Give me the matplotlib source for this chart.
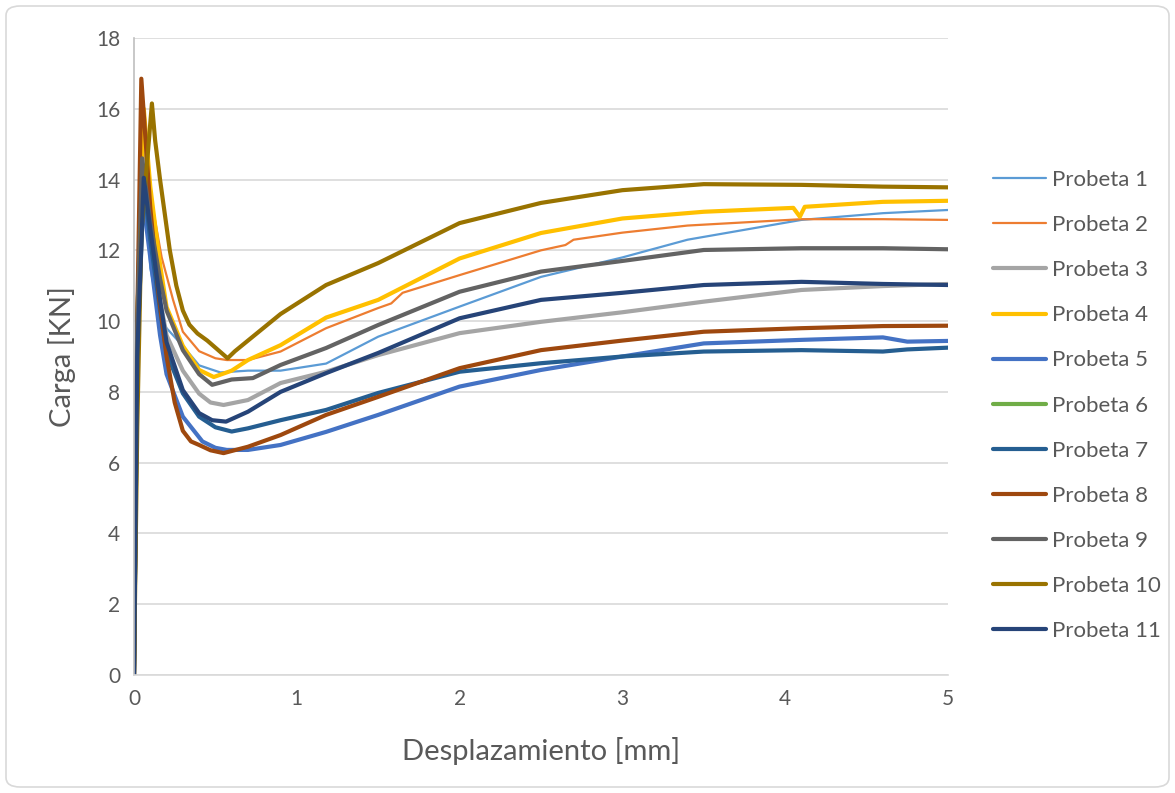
import matplotlib
matplotlib.use("Agg")
import matplotlib.pyplot as plt
from matplotlib.patches import FancyBboxPatch

plt.rcParams['font.family'] = ['Lato', 'DejaVu Sans']

# curvas carga-desplazamiento de cada probeta
x1 = [0, 0.02, 0.06, 0.1, 0.15, 0.2, 0.26, 0.3, 0.4, 0.53, 0.7, 0.9, 1.18, 1.5, 2.0, 2.5, 3.0, 3.4, 4.1, 4.6, 5.0]
y1 = [0, 10, 14.5, 11.5, 10.3, 9.8, 9.5, 9.3, 8.75, 8.55, 8.6, 8.6, 8.8, 9.56, 10.41, 11.25, 11.8, 12.3, 12.86, 13.05, 13.14]

x2 = [0, 0.02, 0.05, 0.1, 0.17, 0.24, 0.3, 0.4, 0.5, 0.57, 0.7, 0.9, 1.18, 1.5, 1.58, 1.65, 2.0, 2.5, 2.65, 2.7, 3.0, 3.4, 4.1, 4.6, 5.0]
y2 = [0, 10, 15.6, 13.6, 11.8, 10.6, 9.7, 9.15, 8.95, 8.9, 8.9, 9.14, 9.8, 10.37, 10.5, 10.8, 11.3, 12.0, 12.15, 12.3, 12.5, 12.7, 12.88, 12.88, 12.86]

x3 = [0, 0.02, 0.05, 0.1, 0.16, 0.2, 0.3, 0.4, 0.47, 0.55, 0.7, 0.9, 1.18, 1.5, 2.0, 2.5, 3.0, 3.5, 4.1, 4.6, 5.0]
y3 = [0, 10, 15.0, 12.8, 10.6, 9.6, 8.6, 7.95, 7.7, 7.63, 7.77, 8.25, 8.57, 9.04, 9.66, 9.98, 10.25, 10.55, 10.88, 10.99, 11.05]

x4 = [0, 0.02, 0.06, 0.1, 0.16, 0.2, 0.3, 0.4, 0.49, 0.6, 0.7, 0.9, 1.18, 1.5, 2.0, 2.5, 3.0, 3.5, 4.05, 4.09, 4.12, 4.6, 5.0]
y4 = [0, 10, 16.0, 13.8, 11.6, 10.4, 9.3, 8.62, 8.42, 8.6, 8.9, 9.32, 10.1, 10.6, 11.77, 12.49, 12.9, 13.09, 13.2, 12.95, 13.23, 13.37, 13.4]

x5 = [0, 0.02, 0.05, 0.1, 0.16, 0.2, 0.3, 0.42, 0.5, 0.57, 0.7, 0.9, 1.18, 1.5, 2.0, 2.5, 3.0, 3.5, 4.1, 4.6, 4.75, 5.0]
y5 = [0, 9, 13.6, 11.8, 9.6, 8.5, 7.3, 6.6, 6.42, 6.36, 6.36, 6.5, 6.87, 7.35, 8.15, 8.62, 9.0, 9.37, 9.47, 9.54, 9.42, 9.44]

x6 = []
y6 = []

x7 = [0, 0.02, 0.06, 0.1, 0.16, 0.2, 0.3, 0.4, 0.5, 0.6, 0.7, 0.9, 1.18, 1.5, 2.0, 2.5, 3.0, 3.5, 4.1, 4.6, 4.75, 5.0]
y7 = [0, 9, 13.9, 12.3, 10.3, 9.1, 7.96, 7.3, 7.0, 6.88, 6.97, 7.2, 7.49, 7.97, 8.57, 8.81, 9.0, 9.14, 9.18, 9.14, 9.2, 9.25]

x8 = [0, 0.02, 0.045, 0.1, 0.15, 0.2, 0.25, 0.3, 0.35, 0.4, 0.47, 0.55, 0.7, 0.9, 1.18, 1.5, 2.0, 2.5, 3.0, 3.5, 4.1, 4.6, 5.0]
y8 = [0, 10, 16.85, 13.2, 10.8, 9.0, 7.7, 6.9, 6.6, 6.5, 6.35, 6.27, 6.45, 6.78, 7.35, 7.86, 8.67, 9.18, 9.45, 9.7, 9.8, 9.86, 9.87]

x9 = [0, 0.02, 0.05, 0.1, 0.16, 0.2, 0.3, 0.4, 0.48, 0.6, 0.73, 0.9, 1.18, 1.5, 2.0, 2.5, 3.0, 3.5, 4.1, 4.6, 5.0]
y9 = [0, 10, 14.6, 12.8, 11.2, 10.3, 9.18, 8.5, 8.2, 8.35, 8.39, 8.76, 9.24, 9.89, 10.83, 11.4, 11.7, 12.01, 12.06, 12.06, 12.03]

x10 = [0, 0.02, 0.045, 0.11, 0.13, 0.16, 0.22, 0.26, 0.3, 0.34, 0.39, 0.45, 0.5, 0.55, 0.575, 0.62, 0.7, 0.9, 1.18, 1.5, 2.0, 2.5, 3.0, 3.5, 4.1, 4.6, 5.0]
y10 = [0, 7, 12.5, 16.15, 15.1, 14.0, 12.0, 11.0, 10.3, 9.9, 9.65, 9.45, 9.25, 9.05, 8.95, 9.15, 9.45, 10.2, 11.02, 11.64, 12.77, 13.34, 13.7, 13.87, 13.85, 13.8, 13.78]

x11 = [0, 0.02, 0.06, 0.1, 0.16, 0.2, 0.3, 0.4, 0.48, 0.565, 0.7, 0.9, 1.18, 1.5, 2.0, 2.5, 3.0, 3.5, 4.1, 4.6, 5.0]
y11 = [0, 9, 14.05, 12.6, 10.6, 9.4, 8.05, 7.4, 7.2, 7.16, 7.44, 8.0, 8.53, 9.1, 10.08, 10.6, 10.8, 11.02, 11.11, 11.05, 11.02]

nombres = ["Probeta 1", "Probeta 2", "Probeta 3", "Probeta 4", "Probeta 5", "Probeta 6",
           "Probeta 7", "Probeta 8", "Probeta 9", "Probeta 10", "Probeta 11"]
colores = ["#5B9BD5", "#ED7D31", "#A5A5A5", "#FFC000", "#4472C4", "#70AD47",
           "#255E91", "#9E480E", "#636363", "#997300", "#264478"]
grosores = [1.6, 1.6, 3.0, 3.0, 3.0, 3.0, 3.0, 3.0, 3.0, 3.0, 3.0]

series = [(x1, y1), (x2, y2), (x3, y3), (x4, y4), (x5, y5), (x6, y6),
          (x7, y7), (x8, y8), (x9, y9), (x10, y10), (x11, y11)]

fig = plt.figure(figsize=(11.75, 7.93), dpi=100)
ax = fig.add_axes([134 / 1175, 118 / 793, 814 / 1175, 637 / 793])

for (xs, ys), nombre, c, lw in zip(series, nombres, colores, grosores):
    ax.plot(xs, ys, color=c, lw=lw, label=nombre, solid_capstyle='round',
            solid_joinstyle='round')

ax.set_xlim(0, 5)
ax.set_ylim(0, 18)
ax.set_xticks(range(0, 6))
ax.set_yticks(range(0, 19, 2))
ax.grid(axis='y', color='#D9D9D9', lw=1.2)
ax.set_axisbelow(True)
ax.tick_params(length=0, labelsize=15, labelcolor='#595959', pad=10)
for s in ['top', 'right']:
    ax.spines[s].set_visible(False)
ax.spines['left'].set_color('#BFBFBF')
ax.spines['bottom'].set_color('#D9D9D9')
ax.spines['left'].set_linewidth(1.2)
ax.spines['bottom'].set_linewidth(1.2)

ax.set_xlabel("Desplazamiento [mm]", fontsize=21, color='#595959', labelpad=20)
ax.set_ylabel("Carga [KN]", fontsize=21, color='#595959', labelpad=14)

fig.legend(loc='upper left', bbox_to_anchor=(973 / 1175, 1 - 150 / 793),
           frameon=False, fontsize=16, labelcolor='#595959',
           handlelength=2.4, handletextpad=0.27, labelspacing=1.13)

# borde redondeado del área del gráfico
marco = FancyBboxPatch((6 / 1175, 6 / 793), 1 - 12 / 1175, 1 - 12 / 793,
                       boxstyle="round,pad=0,rounding_size=0.012",
                       transform=fig.transFigure, fill=False,
                       edgecolor='#D9D9D9', lw=1.2)
fig.patches.append(marco)

fig.savefig("out.png", dpi=100)
